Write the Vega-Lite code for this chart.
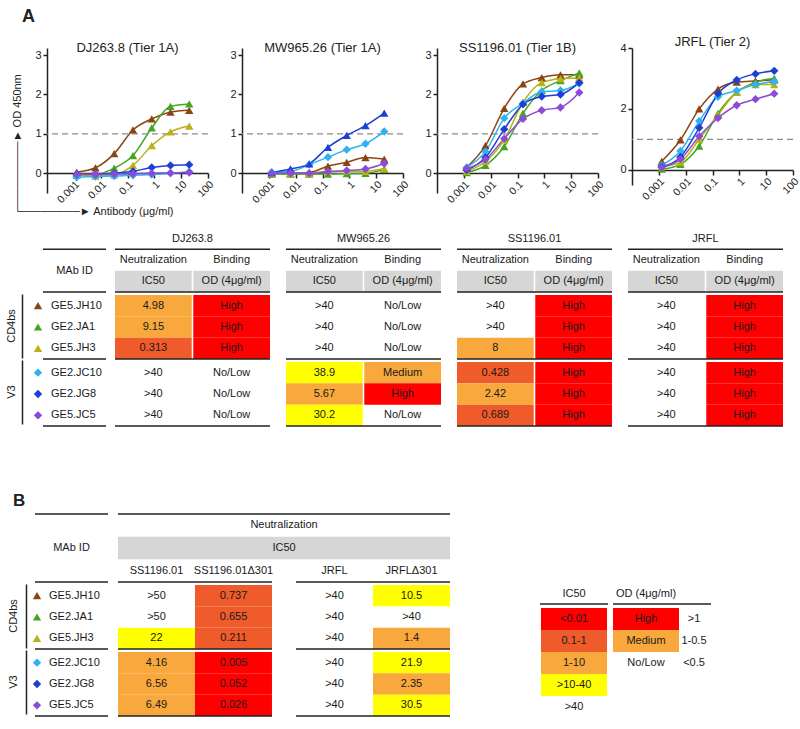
{
"$schema": "https://vega.github.io/schema/vega-lite/v6.json",
"background": "white",
"padding": {"left": 2, "top": 8, "right": 2, "bottom": 2},
"config": {
  "font": "Liberation Sans",
  "view": {"stroke": null},
  "text": {"font": "Liberation Sans", "fontSize": 11, "color": "#1a1a1a"},
  "axis": {"labelFont": "Liberation Sans", "titleFont": "Liberation Sans", "domainColor": "#222", "tickColor": "#222", "labelColor": "#222", "titleColor": "#222", "grid": false},
  "title": {"font": "Liberation Sans", "color": "#222"}
},
"datasets": {
  "curves": [
    {"panel":"DJ263.8","mab":"GE5.JH10","conc":0.00128,"od":0.03},{"panel":"DJ263.8","mab":"GE5.JH10","conc":0.0064,"od":0.14},{"panel":"DJ263.8","mab":"GE5.JH10","conc":0.032,"od":0.5},{"panel":"DJ263.8","mab":"GE5.JH10","conc":0.16,"od":1.1},{"panel":"DJ263.8","mab":"GE5.JH10","conc":0.8,"od":1.38},{"panel":"DJ263.8","mab":"GE5.JH10","conc":4,"od":1.55},{"panel":"DJ263.8","mab":"GE5.JH10","conc":20,"od":1.6},
    {"panel":"DJ263.8","mab":"GE2.JA1","conc":0.00128,"od":0.0},{"panel":"DJ263.8","mab":"GE2.JA1","conc":0.0064,"od":-0.03},{"panel":"DJ263.8","mab":"GE2.JA1","conc":0.032,"od":0.13},{"panel":"DJ263.8","mab":"GE2.JA1","conc":0.16,"od":0.45},{"panel":"DJ263.8","mab":"GE2.JA1","conc":0.8,"od":1.15},{"panel":"DJ263.8","mab":"GE2.JA1","conc":4,"od":1.7},{"panel":"DJ263.8","mab":"GE2.JA1","conc":20,"od":1.76},
    {"panel":"DJ263.8","mab":"GE5.JH3","conc":0.00128,"od":-0.05},{"panel":"DJ263.8","mab":"GE5.JH3","conc":0.0064,"od":-0.07},{"panel":"DJ263.8","mab":"GE5.JH3","conc":0.032,"od":-0.04},{"panel":"DJ263.8","mab":"GE5.JH3","conc":0.16,"od":0.2},{"panel":"DJ263.8","mab":"GE5.JH3","conc":0.8,"od":0.7},{"panel":"DJ263.8","mab":"GE5.JH3","conc":4,"od":1.05},{"panel":"DJ263.8","mab":"GE5.JH3","conc":20,"od":1.2},
    {"panel":"DJ263.8","mab":"GE2.JC10","conc":0.00128,"od":-0.1},{"panel":"DJ263.8","mab":"GE2.JC10","conc":0.0064,"od":-0.08},{"panel":"DJ263.8","mab":"GE2.JC10","conc":0.032,"od":-0.07},{"panel":"DJ263.8","mab":"GE2.JC10","conc":0.16,"od":-0.05},{"panel":"DJ263.8","mab":"GE2.JC10","conc":0.8,"od":-0.03},{"panel":"DJ263.8","mab":"GE2.JC10","conc":4,"od":0.0},{"panel":"DJ263.8","mab":"GE2.JC10","conc":20,"od":0.04},
    {"panel":"DJ263.8","mab":"GE2.JG8","conc":0.00128,"od":-0.02},{"panel":"DJ263.8","mab":"GE2.JG8","conc":0.0064,"od":-0.02},{"panel":"DJ263.8","mab":"GE2.JG8","conc":0.032,"od":0.0},{"panel":"DJ263.8","mab":"GE2.JG8","conc":0.16,"od":0.05},{"panel":"DJ263.8","mab":"GE2.JG8","conc":0.8,"od":0.15},{"panel":"DJ263.8","mab":"GE2.JG8","conc":4,"od":0.2},{"panel":"DJ263.8","mab":"GE2.JG8","conc":20,"od":0.22},
    {"panel":"DJ263.8","mab":"GE5.JC5","conc":0.00128,"od":-0.03},{"panel":"DJ263.8","mab":"GE5.JC5","conc":0.0064,"od":-0.03},{"panel":"DJ263.8","mab":"GE5.JC5","conc":0.032,"od":-0.02},{"panel":"DJ263.8","mab":"GE5.JC5","conc":0.16,"od":-0.01},{"panel":"DJ263.8","mab":"GE5.JC5","conc":0.8,"od":0.0},{"panel":"DJ263.8","mab":"GE5.JC5","conc":4,"od":0.01},{"panel":"DJ263.8","mab":"GE5.JC5","conc":20,"od":0.02},

    {"panel":"MW965.26","mab":"GE5.JH10","conc":0.00128,"od":0.0},{"panel":"MW965.26","mab":"GE5.JH10","conc":0.0064,"od":0.0},{"panel":"MW965.26","mab":"GE5.JH10","conc":0.032,"od":0.02},{"panel":"MW965.26","mab":"GE5.JH10","conc":0.16,"od":0.18},{"panel":"MW965.26","mab":"GE5.JH10","conc":0.8,"od":0.28},{"panel":"MW965.26","mab":"GE5.JH10","conc":4,"od":0.4},{"panel":"MW965.26","mab":"GE5.JH10","conc":20,"od":0.36},
    {"panel":"MW965.26","mab":"GE2.JA1","conc":0.00128,"od":-0.02},{"panel":"MW965.26","mab":"GE2.JA1","conc":0.0064,"od":-0.02},{"panel":"MW965.26","mab":"GE2.JA1","conc":0.032,"od":-0.02},{"panel":"MW965.26","mab":"GE2.JA1","conc":0.16,"od":-0.02},{"panel":"MW965.26","mab":"GE2.JA1","conc":0.8,"od":-0.01},{"panel":"MW965.26","mab":"GE2.JA1","conc":4,"od":0.0},{"panel":"MW965.26","mab":"GE2.JA1","conc":20,"od":0.1},
    {"panel":"MW965.26","mab":"GE5.JH3","conc":0.00128,"od":0.0},{"panel":"MW965.26","mab":"GE5.JH3","conc":0.0064,"od":0.0},{"panel":"MW965.26","mab":"GE5.JH3","conc":0.032,"od":0.0},{"panel":"MW965.26","mab":"GE5.JH3","conc":0.16,"od":0.05},{"panel":"MW965.26","mab":"GE5.JH3","conc":0.8,"od":0.06},{"panel":"MW965.26","mab":"GE5.JH3","conc":4,"od":0.05},{"panel":"MW965.26","mab":"GE5.JH3","conc":20,"od":0.12},
    {"panel":"MW965.26","mab":"GE2.JC10","conc":0.00128,"od":0.03},{"panel":"MW965.26","mab":"GE2.JC10","conc":0.0064,"od":0.05},{"panel":"MW965.26","mab":"GE2.JC10","conc":0.032,"od":0.22},{"panel":"MW965.26","mab":"GE2.JC10","conc":0.16,"od":0.41},{"panel":"MW965.26","mab":"GE2.JC10","conc":0.8,"od":0.6},{"panel":"MW965.26","mab":"GE2.JC10","conc":4,"od":0.75},{"panel":"MW965.26","mab":"GE2.JC10","conc":20,"od":1.06},
    {"panel":"MW965.26","mab":"GE2.JG8","conc":0.00128,"od":0.02},{"panel":"MW965.26","mab":"GE2.JG8","conc":0.0064,"od":0.11},{"panel":"MW965.26","mab":"GE2.JG8","conc":0.032,"od":0.24},{"panel":"MW965.26","mab":"GE2.JG8","conc":0.16,"od":0.66},{"panel":"MW965.26","mab":"GE2.JG8","conc":0.8,"od":0.96},{"panel":"MW965.26","mab":"GE2.JG8","conc":4,"od":1.21},{"panel":"MW965.26","mab":"GE2.JG8","conc":20,"od":1.53},
    {"panel":"MW965.26","mab":"GE5.JC5","conc":0.00128,"od":0.0},{"panel":"MW965.26","mab":"GE5.JC5","conc":0.0064,"od":0.0},{"panel":"MW965.26","mab":"GE5.JC5","conc":0.032,"od":0.0},{"panel":"MW965.26","mab":"GE5.JC5","conc":0.16,"od":0.04},{"panel":"MW965.26","mab":"GE5.JC5","conc":0.8,"od":0.07},{"panel":"MW965.26","mab":"GE5.JC5","conc":4,"od":0.11},{"panel":"MW965.26","mab":"GE5.JC5","conc":20,"od":0.25},

    {"panel":"SS1196.01","mab":"GE5.JH10","conc":0.00128,"od":0.15},{"panel":"SS1196.01","mab":"GE5.JH10","conc":0.0064,"od":0.7},{"panel":"SS1196.01","mab":"GE5.JH10","conc":0.032,"od":1.65},{"panel":"SS1196.01","mab":"GE5.JH10","conc":0.16,"od":2.27},{"panel":"SS1196.01","mab":"GE5.JH10","conc":0.8,"od":2.43},{"panel":"SS1196.01","mab":"GE5.JH10","conc":4,"od":2.5},{"panel":"SS1196.01","mab":"GE5.JH10","conc":20,"od":2.5},
    {"panel":"SS1196.01","mab":"GE2.JA1","conc":0.00128,"od":0.02},{"panel":"SS1196.01","mab":"GE2.JA1","conc":0.0064,"od":0.2},{"panel":"SS1196.01","mab":"GE2.JA1","conc":0.032,"od":0.68},{"panel":"SS1196.01","mab":"GE2.JA1","conc":0.16,"od":1.52},{"panel":"SS1196.01","mab":"GE2.JA1","conc":0.8,"od":2.1},{"panel":"SS1196.01","mab":"GE2.JA1","conc":4,"od":2.35},{"panel":"SS1196.01","mab":"GE2.JA1","conc":20,"od":2.55},
    {"panel":"SS1196.01","mab":"GE5.JH3","conc":0.00128,"od":0.05},{"panel":"SS1196.01","mab":"GE5.JH3","conc":0.0064,"od":0.3},{"panel":"SS1196.01","mab":"GE5.JH3","conc":0.032,"od":0.85},{"panel":"SS1196.01","mab":"GE5.JH3","conc":0.16,"od":1.8},{"panel":"SS1196.01","mab":"GE5.JH3","conc":0.8,"od":2.3},{"panel":"SS1196.01","mab":"GE5.JH3","conc":4,"od":2.4},{"panel":"SS1196.01","mab":"GE5.JH3","conc":20,"od":2.42},
    {"panel":"SS1196.01","mab":"GE2.JC10","conc":0.00128,"od":0.15},{"panel":"SS1196.01","mab":"GE2.JC10","conc":0.0064,"od":0.55},{"panel":"SS1196.01","mab":"GE2.JC10","conc":0.032,"od":1.4},{"panel":"SS1196.01","mab":"GE2.JC10","conc":0.16,"od":1.78},{"panel":"SS1196.01","mab":"GE2.JC10","conc":0.8,"od":2.07},{"panel":"SS1196.01","mab":"GE2.JC10","conc":4,"od":2.1},{"panel":"SS1196.01","mab":"GE2.JC10","conc":20,"od":2.28},
    {"panel":"SS1196.01","mab":"GE2.JG8","conc":0.00128,"od":0.08},{"panel":"SS1196.01","mab":"GE2.JG8","conc":0.0064,"od":0.4},{"panel":"SS1196.01","mab":"GE2.JG8","conc":0.032,"od":1.12},{"panel":"SS1196.01","mab":"GE2.JG8","conc":0.16,"od":1.75},{"panel":"SS1196.01","mab":"GE2.JG8","conc":0.8,"od":1.95},{"panel":"SS1196.01","mab":"GE2.JG8","conc":4,"od":2.0},{"panel":"SS1196.01","mab":"GE2.JG8","conc":20,"od":2.3},
    {"panel":"SS1196.01","mab":"GE5.JC5","conc":0.00128,"od":0.12},{"panel":"SS1196.01","mab":"GE5.JC5","conc":0.0064,"od":0.35},{"panel":"SS1196.01","mab":"GE5.JC5","conc":0.032,"od":0.88},{"panel":"SS1196.01","mab":"GE5.JC5","conc":0.16,"od":1.38},{"panel":"SS1196.01","mab":"GE5.JC5","conc":0.8,"od":1.6},{"panel":"SS1196.01","mab":"GE5.JC5","conc":4,"od":1.67},{"panel":"SS1196.01","mab":"GE5.JC5","conc":20,"od":2.05},

    {"panel":"JRFL","mab":"GE5.JH10","conc":0.00128,"od":0.28},{"panel":"JRFL","mab":"GE5.JH10","conc":0.0064,"od":0.98},{"panel":"JRFL","mab":"GE5.JH10","conc":0.032,"od":2.0},{"panel":"JRFL","mab":"GE5.JH10","conc":0.16,"od":2.65},{"panel":"JRFL","mab":"GE5.JH10","conc":0.8,"od":2.88},{"panel":"JRFL","mab":"GE5.JH10","conc":4,"od":2.92},{"panel":"JRFL","mab":"GE5.JH10","conc":20,"od":2.95},
    {"panel":"JRFL","mab":"GE2.JA1","conc":0.00128,"od":0.02},{"panel":"JRFL","mab":"GE2.JA1","conc":0.0064,"od":0.18},{"panel":"JRFL","mab":"GE2.JA1","conc":0.032,"od":0.78},{"panel":"JRFL","mab":"GE2.JA1","conc":0.16,"od":1.85},{"panel":"JRFL","mab":"GE2.JA1","conc":0.8,"od":2.55},{"panel":"JRFL","mab":"GE2.JA1","conc":4,"od":2.88},{"panel":"JRFL","mab":"GE2.JA1","conc":20,"od":3.0},
    {"panel":"JRFL","mab":"GE5.JH3","conc":0.00128,"od":0.1},{"panel":"JRFL","mab":"GE5.JH3","conc":0.0064,"od":0.25},{"panel":"JRFL","mab":"GE5.JH3","conc":0.032,"od":1.0},{"panel":"JRFL","mab":"GE5.JH3","conc":0.16,"od":1.8},{"panel":"JRFL","mab":"GE5.JH3","conc":0.8,"od":2.55},{"panel":"JRFL","mab":"GE5.JH3","conc":4,"od":2.8},{"panel":"JRFL","mab":"GE5.JH3","conc":20,"od":2.8},
    {"panel":"JRFL","mab":"GE2.JC10","conc":0.00128,"od":0.15},{"panel":"JRFL","mab":"GE2.JC10","conc":0.0064,"od":0.62},{"panel":"JRFL","mab":"GE2.JC10","conc":0.032,"od":1.6},{"panel":"JRFL","mab":"GE2.JC10","conc":0.16,"od":2.4},{"panel":"JRFL","mab":"GE2.JC10","conc":0.8,"od":2.6},{"panel":"JRFL","mab":"GE2.JC10","conc":4,"od":2.8},{"panel":"JRFL","mab":"GE2.JC10","conc":20,"od":2.9},
    {"panel":"JRFL","mab":"GE2.JG8","conc":0.00128,"od":0.1},{"panel":"JRFL","mab":"GE2.JG8","conc":0.0064,"od":0.42},{"panel":"JRFL","mab":"GE2.JG8","conc":0.032,"od":1.38},{"panel":"JRFL","mab":"GE2.JG8","conc":0.16,"od":2.5},{"panel":"JRFL","mab":"GE2.JG8","conc":0.8,"od":2.95},{"panel":"JRFL","mab":"GE2.JG8","conc":4,"od":3.15},{"panel":"JRFL","mab":"GE2.JG8","conc":20,"od":3.25},
    {"panel":"JRFL","mab":"GE5.JC5","conc":0.00128,"od":0.08},{"panel":"JRFL","mab":"GE5.JC5","conc":0.0064,"od":0.35},{"panel":"JRFL","mab":"GE5.JC5","conc":0.032,"od":1.1},{"panel":"JRFL","mab":"GE5.JC5","conc":0.16,"od":1.7},{"panel":"JRFL","mab":"GE5.JC5","conc":0.8,"od":2.12},{"panel":"JRFL","mab":"GE5.JC5","conc":4,"od":2.32},{"panel":"JRFL","mab":"GE5.JC5","conc":20,"od":2.5}
  ],
  "tableA": [
    {"section":"header","strain":"DJ263.8","pos":1,"col":"title","text":"DJ263.8"},
    {"section":"header","strain":"DJ263.8","pos":2,"col":"IC50","text":"Neutralization"},
    {"section":"header","strain":"DJ263.8","pos":2,"col":"OD","text":"Binding"},
    {"section":"header","strain":"DJ263.8","pos":3,"col":"IC50","text":"IC50","bin":"header"},
    {"section":"header","strain":"DJ263.8","pos":3,"col":"OD","text":"OD (4μg/ml)","bin":"header"},
    {"section":"header","strain":"MW965.26","pos":1,"col":"title","text":"MW965.26"},
    {"section":"header","strain":"MW965.26","pos":2,"col":"IC50","text":"Neutralization"},
    {"section":"header","strain":"MW965.26","pos":2,"col":"OD","text":"Binding"},
    {"section":"header","strain":"MW965.26","pos":3,"col":"IC50","text":"IC50","bin":"header"},
    {"section":"header","strain":"MW965.26","pos":3,"col":"OD","text":"OD (4μg/ml)","bin":"header"},
    {"section":"header","strain":"SS1196.01","pos":1,"col":"title","text":"SS1196.01"},
    {"section":"header","strain":"SS1196.01","pos":2,"col":"IC50","text":"Neutralization"},
    {"section":"header","strain":"SS1196.01","pos":2,"col":"OD","text":"Binding"},
    {"section":"header","strain":"SS1196.01","pos":3,"col":"IC50","text":"IC50","bin":"header"},
    {"section":"header","strain":"SS1196.01","pos":3,"col":"OD","text":"OD (4μg/ml)","bin":"header"},
    {"section":"header","strain":"JRFL","pos":1,"col":"title","text":"JRFL"},
    {"section":"header","strain":"JRFL","pos":2,"col":"IC50","text":"Neutralization"},
    {"section":"header","strain":"JRFL","pos":2,"col":"OD","text":"Binding"},
    {"section":"header","strain":"JRFL","pos":3,"col":"IC50","text":"IC50","bin":"header"},
    {"section":"header","strain":"JRFL","pos":3,"col":"OD","text":"OD (4μg/ml)","bin":"header"},

    {"section":"CD4bs","strain":"DJ263.8","pos":1,"mab":"GE5.JH10","col":"IC50","text":"4.98","bin":"1-10"},
    {"section":"CD4bs","strain":"DJ263.8","pos":1,"mab":"GE5.JH10","col":"OD","text":"High","bin":"High"},
    {"section":"CD4bs","strain":"DJ263.8","pos":2,"mab":"GE2.JA1","col":"IC50","text":"9.15","bin":"1-10"},
    {"section":"CD4bs","strain":"DJ263.8","pos":2,"mab":"GE2.JA1","col":"OD","text":"High","bin":"High"},
    {"section":"CD4bs","strain":"DJ263.8","pos":3,"mab":"GE5.JH3","col":"IC50","text":"0.313","bin":"0.1-1"},
    {"section":"CD4bs","strain":"DJ263.8","pos":3,"mab":"GE5.JH3","col":"OD","text":"High","bin":"High"},
    {"section":"V3","strain":"DJ263.8","pos":1,"mab":"GE2.JC10","col":"IC50","text":">40","bin":">40"},
    {"section":"V3","strain":"DJ263.8","pos":1,"mab":"GE2.JC10","col":"OD","text":"No/Low","bin":"No/Low"},
    {"section":"V3","strain":"DJ263.8","pos":2,"mab":"GE2.JG8","col":"IC50","text":">40","bin":">40"},
    {"section":"V3","strain":"DJ263.8","pos":2,"mab":"GE2.JG8","col":"OD","text":"No/Low","bin":"No/Low"},
    {"section":"V3","strain":"DJ263.8","pos":3,"mab":"GE5.JC5","col":"IC50","text":">40","bin":">40"},
    {"section":"V3","strain":"DJ263.8","pos":3,"mab":"GE5.JC5","col":"OD","text":"No/Low","bin":"No/Low"},

    {"section":"CD4bs","strain":"MW965.26","pos":1,"mab":"GE5.JH10","col":"IC50","text":">40","bin":">40"},
    {"section":"CD4bs","strain":"MW965.26","pos":1,"mab":"GE5.JH10","col":"OD","text":"No/Low","bin":"No/Low"},
    {"section":"CD4bs","strain":"MW965.26","pos":2,"mab":"GE2.JA1","col":"IC50","text":">40","bin":">40"},
    {"section":"CD4bs","strain":"MW965.26","pos":2,"mab":"GE2.JA1","col":"OD","text":"No/Low","bin":"No/Low"},
    {"section":"CD4bs","strain":"MW965.26","pos":3,"mab":"GE5.JH3","col":"IC50","text":">40","bin":">40"},
    {"section":"CD4bs","strain":"MW965.26","pos":3,"mab":"GE5.JH3","col":"OD","text":"No/Low","bin":"No/Low"},
    {"section":"V3","strain":"MW965.26","pos":1,"mab":"GE2.JC10","col":"IC50","text":"38.9","bin":">10-40"},
    {"section":"V3","strain":"MW965.26","pos":1,"mab":"GE2.JC10","col":"OD","text":"Medium","bin":"Medium"},
    {"section":"V3","strain":"MW965.26","pos":2,"mab":"GE2.JG8","col":"IC50","text":"5.67","bin":"1-10"},
    {"section":"V3","strain":"MW965.26","pos":2,"mab":"GE2.JG8","col":"OD","text":"High","bin":"High"},
    {"section":"V3","strain":"MW965.26","pos":3,"mab":"GE5.JC5","col":"IC50","text":"30.2","bin":">10-40"},
    {"section":"V3","strain":"MW965.26","pos":3,"mab":"GE5.JC5","col":"OD","text":"No/Low","bin":"No/Low"},

    {"section":"CD4bs","strain":"SS1196.01","pos":1,"mab":"GE5.JH10","col":"IC50","text":">40","bin":">40"},
    {"section":"CD4bs","strain":"SS1196.01","pos":1,"mab":"GE5.JH10","col":"OD","text":"High","bin":"High"},
    {"section":"CD4bs","strain":"SS1196.01","pos":2,"mab":"GE2.JA1","col":"IC50","text":">40","bin":">40"},
    {"section":"CD4bs","strain":"SS1196.01","pos":2,"mab":"GE2.JA1","col":"OD","text":"High","bin":"High"},
    {"section":"CD4bs","strain":"SS1196.01","pos":3,"mab":"GE5.JH3","col":"IC50","text":"8","bin":"1-10"},
    {"section":"CD4bs","strain":"SS1196.01","pos":3,"mab":"GE5.JH3","col":"OD","text":"High","bin":"High"},
    {"section":"V3","strain":"SS1196.01","pos":1,"mab":"GE2.JC10","col":"IC50","text":"0.428","bin":"0.1-1"},
    {"section":"V3","strain":"SS1196.01","pos":1,"mab":"GE2.JC10","col":"OD","text":"High","bin":"High"},
    {"section":"V3","strain":"SS1196.01","pos":2,"mab":"GE2.JG8","col":"IC50","text":"2.42","bin":"1-10"},
    {"section":"V3","strain":"SS1196.01","pos":2,"mab":"GE2.JG8","col":"OD","text":"High","bin":"High"},
    {"section":"V3","strain":"SS1196.01","pos":3,"mab":"GE5.JC5","col":"IC50","text":"0.689","bin":"0.1-1"},
    {"section":"V3","strain":"SS1196.01","pos":3,"mab":"GE5.JC5","col":"OD","text":"High","bin":"High"},

    {"section":"CD4bs","strain":"JRFL","pos":1,"mab":"GE5.JH10","col":"IC50","text":">40","bin":">40"},
    {"section":"CD4bs","strain":"JRFL","pos":1,"mab":"GE5.JH10","col":"OD","text":"High","bin":"High"},
    {"section":"CD4bs","strain":"JRFL","pos":2,"mab":"GE2.JA1","col":"IC50","text":">40","bin":">40"},
    {"section":"CD4bs","strain":"JRFL","pos":2,"mab":"GE2.JA1","col":"OD","text":"High","bin":"High"},
    {"section":"CD4bs","strain":"JRFL","pos":3,"mab":"GE5.JH3","col":"IC50","text":">40","bin":">40"},
    {"section":"CD4bs","strain":"JRFL","pos":3,"mab":"GE5.JH3","col":"OD","text":"High","bin":"High"},
    {"section":"V3","strain":"JRFL","pos":1,"mab":"GE2.JC10","col":"IC50","text":">40","bin":">40"},
    {"section":"V3","strain":"JRFL","pos":1,"mab":"GE2.JC10","col":"OD","text":"High","bin":"High"},
    {"section":"V3","strain":"JRFL","pos":2,"mab":"GE2.JG8","col":"IC50","text":">40","bin":">40"},
    {"section":"V3","strain":"JRFL","pos":2,"mab":"GE2.JG8","col":"OD","text":"High","bin":"High"},
    {"section":"V3","strain":"JRFL","pos":3,"mab":"GE5.JC5","col":"IC50","text":">40","bin":">40"},
    {"section":"V3","strain":"JRFL","pos":3,"mab":"GE5.JC5","col":"OD","text":"High","bin":"High"}
  ],
  "mabs": [
    {"section":"CD4bs","pos":1,"mab":"GE5.JH10"},{"section":"CD4bs","pos":2,"mab":"GE2.JA1"},{"section":"CD4bs","pos":3,"mab":"GE5.JH3"},
    {"section":"V3","pos":1,"mab":"GE2.JC10"},{"section":"V3","pos":2,"mab":"GE2.JG8"},{"section":"V3","pos":3,"mab":"GE5.JC5"}
  ],
  "mabHeadA": [
    {"kind":"label","pos":3,"text":"MAb ID"},{"kind":"rule","pos":1},{"kind":"rule","pos":3}
  ],
  "mabHeadB": [
    {"kind":"label","pos":2,"text":"MAb ID"},{"kind":"top","pos":1},{"kind":"bottom","pos":3}
  ],
  "headB": [
    {"kind":"span","pos":1,"text":"Neutralization"},
    {"kind":"spanhead","pos":2,"text":"IC50","bin":"header"},
    {"kind":"col","pos":3,"group":"SS1196.01","col":"wt","text":"SS1196.01"},
    {"kind":"col","pos":3,"group":"SS1196.01","col":"d301","text":"SS1196.01Δ301"},
    {"kind":"col","pos":3,"group":"JRFL","col":"wt","text":"JRFL"},
    {"kind":"col","pos":3,"group":"JRFL","col":"d301","text":"JRFLΔ301"}
  ],
  "tableB": [
    {"section":"CD4bs","pos":1,"mab":"GE5.JH10","group":"SS1196.01","col":"wt","text":">50","bin":">40"},
    {"section":"CD4bs","pos":2,"mab":"GE2.JA1","group":"SS1196.01","col":"wt","text":">50","bin":">40"},
    {"section":"CD4bs","pos":3,"mab":"GE5.JH3","group":"SS1196.01","col":"wt","text":"22","bin":">10-40"},
    {"section":"CD4bs","pos":1,"mab":"GE5.JH10","group":"SS1196.01","col":"d301","text":"0.737","bin":"0.1-1"},
    {"section":"CD4bs","pos":2,"mab":"GE2.JA1","group":"SS1196.01","col":"d301","text":"0.655","bin":"0.1-1"},
    {"section":"CD4bs","pos":3,"mab":"GE5.JH3","group":"SS1196.01","col":"d301","text":"0.211","bin":"0.1-1"},
    {"section":"CD4bs","pos":1,"mab":"GE5.JH10","group":"JRFL","col":"wt","text":">40","bin":">40"},
    {"section":"CD4bs","pos":2,"mab":"GE2.JA1","group":"JRFL","col":"wt","text":">40","bin":">40"},
    {"section":"CD4bs","pos":3,"mab":"GE5.JH3","group":"JRFL","col":"wt","text":">40","bin":">40"},
    {"section":"CD4bs","pos":1,"mab":"GE5.JH10","group":"JRFL","col":"d301","text":"10.5","bin":">10-40"},
    {"section":"CD4bs","pos":2,"mab":"GE2.JA1","group":"JRFL","col":"d301","text":">40","bin":">40"},
    {"section":"CD4bs","pos":3,"mab":"GE5.JH3","group":"JRFL","col":"d301","text":"1.4","bin":"1-10"},
    {"section":"V3","pos":1,"mab":"GE2.JC10","group":"SS1196.01","col":"wt","text":"4.16","bin":"1-10"},
    {"section":"V3","pos":2,"mab":"GE2.JG8","group":"SS1196.01","col":"wt","text":"6.56","bin":"1-10"},
    {"section":"V3","pos":3,"mab":"GE5.JC5","group":"SS1196.01","col":"wt","text":"6.49","bin":"1-10"},
    {"section":"V3","pos":1,"mab":"GE2.JC10","group":"SS1196.01","col":"d301","text":"0.005","bin":"<0.01"},
    {"section":"V3","pos":2,"mab":"GE2.JG8","group":"SS1196.01","col":"d301","text":"0.052","bin":"0.01-0.1"},
    {"section":"V3","pos":3,"mab":"GE5.JC5","group":"SS1196.01","col":"d301","text":"0.026","bin":"0.01-0.1"},
    {"section":"V3","pos":1,"mab":"GE2.JC10","group":"JRFL","col":"wt","text":">40","bin":">40"},
    {"section":"V3","pos":2,"mab":"GE2.JG8","group":"JRFL","col":"wt","text":">40","bin":">40"},
    {"section":"V3","pos":3,"mab":"GE5.JC5","group":"JRFL","col":"wt","text":">40","bin":">40"},
    {"section":"V3","pos":1,"mab":"GE2.JC10","group":"JRFL","col":"d301","text":"21.9","bin":">10-40"},
    {"section":"V3","pos":2,"mab":"GE2.JG8","group":"JRFL","col":"d301","text":"2.35","bin":"1-10"},
    {"section":"V3","pos":3,"mab":"GE5.JC5","group":"JRFL","col":"d301","text":"30.5","bin":">10-40"}
  ],
  "legend": [
    {"col":"IC50","pos":0,"text":"IC50"},{"col":"OD","pos":0,"text":"OD (4μg/ml)"},
    {"col":"IC50","pos":1,"text":"<0.01","bin":"<0.01"},{"col":"IC50","pos":2,"text":"0.1-1","bin":"0.1-1"},{"col":"IC50","pos":3,"text":"1-10","bin":"1-10"},{"col":"IC50","pos":4,"text":">10-40","bin":">10-40"},{"col":"IC50","pos":5,"text":">40","bin":">40"},
    {"col":"OD","pos":1,"text":"High","bin":"High","range":">1"},{"col":"OD","pos":2,"text":"Medium","bin":"Medium","range":"1-0.5"},{"col":"OD","pos":3,"text":"No/Low","bin":"No/Low","range":"<0.5"}
  ]
},
"resolve": {"scale": {"shape": "independent", "color": "independent", "fill": "independent"}},
"spacing": 65,
"vconcat": [
 {
  "title": {"text": "A", "anchor": "start", "fontSize": 18, "fontWeight": "bold", "dx": 20, "offset": 10},
  "resolve": {"scale": {"shape": "independent", "color": "independent", "fill": "independent"}},
  "spacing": 12,
  "vconcat": [
   {
    "resolve": {"scale": {"shape": "independent", "color": "independent"}},
    "spacing": 8,
    "hconcat": [
     {"width": 1, "height": 1, "data": {"values": []}, "mark": "point"},
     {
      "resolve": {"scale": {"shape": "independent", "color": "independent"}},
      "spacing": 13,
      "hconcat": [
       {
        "width": 161, "height": 145,
        "title": {"text": "DJ263.8 (Tier 1A)", "fontSize": 13, "fontWeight": "normal", "offset": -7, "frame": "group"},
        "layer": [
         {"data": {"values": [{}]}, "mark": {"type": "rule", "strokeDash": [6,4], "color": "#8c8c8c", "strokeWidth": 1.2}, "encoding": {"y": {"datum": 1, "type": "quantitative"}}},
         {"data": {"name": "curves"}, "transform": [{"filter": "datum.panel == 'DJ263.8'"}], "mark": {"type": "line", "interpolate": "monotone", "strokeWidth": 1.5},
          "encoding": {
           "x": {"field": "conc", "type": "quantitative", "scale": {"type": "log", "domain": [0.0001, 100]}, "axis": {"values": [0.001,0.01,0.1,1,10,100], "format": "~g", "labelAngle": -45, "labelAlign": "right", "labelBaseline": "top", "labelFlush": false, "labelOverlap": false, "labelFontSize": 10.5, "labelPadding": 1, "tickSize": 5, "tickWidth": 1.5, "domainWidth": 1.5, "offset": -20, "title": "────────► Antibody (μg/ml)", "titleX": -30, "titleY": 38, "titleAlign": "left", "titleBaseline": "middle", "titleFontSize": 11, "titleFontWeight": "normal"}},
           "y": {"field": "od", "type": "quantitative", "scale": {"domain": [-0.5, 3.18], "nice": false, "zero": false}, "axis": {"values": [0,1,2,3], "labelFontSize": 11, "labelPadding": 2, "tickSize": 4, "tickWidth": 1.5, "domainWidth": 1.5, "title": "─────────► OD 450nm", "titleX": -30, "titleY": 163, "titleAngle": -90, "titleAlign": "left", "titleBaseline": "middle", "titleFontSize": 11, "titleFontWeight": "normal"}},
           "color": {"field": "mab", "type": "nominal", "scale": {"domain": ["GE5.JH10","GE2.JA1","GE5.JH3","GE2.JC10","GE2.JG8","GE5.JC5"], "range": ["#8B4513","#46a51f","#b9b116","#2fb2f0","#1c3fd6","#8b4ad8"]}, "legend": null}
          }},
         {"data": {"name": "curves"}, "transform": [{"filter": "datum.panel == 'DJ263.8'"}], "mark": {"type": "point", "filled": true, "size": 70, "opacity": 1},
          "encoding": {
           "x": {"field": "conc", "type": "quantitative", "scale": {"type": "log", "domain": [0.0001, 100]}},
           "y": {"field": "od", "type": "quantitative", "scale": {"domain": [-0.5, 3.18], "nice": false, "zero": false}},
           "color": {"field": "mab", "type": "nominal", "scale": {"domain": ["GE5.JH10","GE2.JA1","GE5.JH3","GE2.JC10","GE2.JG8","GE5.JC5"], "range": ["#8B4513","#46a51f","#b9b116","#2fb2f0","#1c3fd6","#8b4ad8"]}, "legend": null},
           "shape": {"field": "mab", "type": "nominal", "scale": {"domain": ["GE5.JH10","GE2.JA1","GE5.JH3","GE2.JC10","GE2.JG8","GE5.JC5"], "range": ["triangle-up","triangle-up","triangle-up","diamond","diamond","diamond"]}, "legend": null}
          }}
        ]
       },
       {
        "width": 161, "height": 145,
        "title": {"text": "MW965.26 (Tier 1A)", "fontSize": 13, "fontWeight": "normal", "offset": -7, "frame": "group"},
        "layer": [
         {"data": {"values": [{}]}, "mark": {"type": "rule", "strokeDash": [6,4], "color": "#8c8c8c", "strokeWidth": 1.2}, "encoding": {"y": {"datum": 1, "type": "quantitative"}}},
         {"data": {"name": "curves"}, "transform": [{"filter": "datum.panel == 'MW965.26'"}], "mark": {"type": "line", "interpolate": "monotone", "strokeWidth": 1.5},
          "encoding": {
           "x": {"field": "conc", "type": "quantitative", "scale": {"type": "log", "domain": [0.0001, 100]}, "axis": {"values": [0.001,0.01,0.1,1,10,100], "format": "~g", "labelAngle": -45, "labelAlign": "right", "labelBaseline": "top", "labelFlush": false, "labelOverlap": false, "labelFontSize": 10.5, "labelPadding": 1, "tickSize": 5, "tickWidth": 1.5, "domainWidth": 1.5, "offset": -20, "title": null}},
           "y": {"field": "od", "type": "quantitative", "scale": {"domain": [-0.5, 3.18], "nice": false, "zero": false}, "axis": {"values": [0,1,2,3], "labelFontSize": 11, "labelPadding": 2, "tickSize": 4, "tickWidth": 1.5, "domainWidth": 1.5, "title": null}},
           "color": {"field": "mab", "type": "nominal", "scale": {"domain": ["GE5.JH10","GE2.JA1","GE5.JH3","GE2.JC10","GE2.JG8","GE5.JC5"], "range": ["#8B4513","#46a51f","#b9b116","#2fb2f0","#1c3fd6","#8b4ad8"]}, "legend": null}
          }},
         {"data": {"name": "curves"}, "transform": [{"filter": "datum.panel == 'MW965.26'"}], "mark": {"type": "point", "filled": true, "size": 70, "opacity": 1},
          "encoding": {
           "x": {"field": "conc", "type": "quantitative", "scale": {"type": "log", "domain": [0.0001, 100]}},
           "y": {"field": "od", "type": "quantitative", "scale": {"domain": [-0.5, 3.18], "nice": false, "zero": false}},
           "color": {"field": "mab", "type": "nominal", "scale": {"domain": ["GE5.JH10","GE2.JA1","GE5.JH3","GE2.JC10","GE2.JG8","GE5.JC5"], "range": ["#8B4513","#46a51f","#b9b116","#2fb2f0","#1c3fd6","#8b4ad8"]}, "legend": null},
           "shape": {"field": "mab", "type": "nominal", "scale": {"domain": ["GE5.JH10","GE2.JA1","GE5.JH3","GE2.JC10","GE2.JG8","GE5.JC5"], "range": ["triangle-up","triangle-up","triangle-up","diamond","triangle-up","diamond"]}, "legend": null}
          }}
        ]
       },
       {
        "width": 161, "height": 145,
        "title": {"text": "SS1196.01 (Tier 1B)", "fontSize": 13, "fontWeight": "normal", "offset": -7, "frame": "group"},
        "layer": [
         {"data": {"values": [{}]}, "mark": {"type": "rule", "strokeDash": [6,4], "color": "#8c8c8c", "strokeWidth": 1.2}, "encoding": {"y": {"datum": 1, "type": "quantitative"}}},
         {"data": {"name": "curves"}, "transform": [{"filter": "datum.panel == 'SS1196.01'"}], "mark": {"type": "line", "interpolate": "monotone", "strokeWidth": 1.5},
          "encoding": {
           "x": {"field": "conc", "type": "quantitative", "scale": {"type": "log", "domain": [0.0001, 100]}, "axis": {"values": [0.001,0.01,0.1,1,10,100], "format": "~g", "labelAngle": -45, "labelAlign": "right", "labelBaseline": "top", "labelFlush": false, "labelOverlap": false, "labelFontSize": 10.5, "labelPadding": 1, "tickSize": 5, "tickWidth": 1.5, "domainWidth": 1.5, "offset": -20, "title": null}},
           "y": {"field": "od", "type": "quantitative", "scale": {"domain": [-0.5, 3.18], "nice": false, "zero": false}, "axis": {"values": [0,1,2,3], "labelFontSize": 11, "labelPadding": 2, "tickSize": 4, "tickWidth": 1.5, "domainWidth": 1.5, "title": null}},
           "color": {"field": "mab", "type": "nominal", "scale": {"domain": ["GE5.JH10","GE2.JA1","GE5.JH3","GE2.JC10","GE2.JG8","GE5.JC5"], "range": ["#8B4513","#46a51f","#b9b116","#2fb2f0","#1c3fd6","#8b4ad8"]}, "legend": null}
          }},
         {"data": {"name": "curves"}, "transform": [{"filter": "datum.panel == 'SS1196.01'"}], "mark": {"type": "point", "filled": true, "size": 70, "opacity": 1},
          "encoding": {
           "x": {"field": "conc", "type": "quantitative", "scale": {"type": "log", "domain": [0.0001, 100]}},
           "y": {"field": "od", "type": "quantitative", "scale": {"domain": [-0.5, 3.18], "nice": false, "zero": false}},
           "color": {"field": "mab", "type": "nominal", "scale": {"domain": ["GE5.JH10","GE2.JA1","GE5.JH3","GE2.JC10","GE2.JG8","GE5.JC5"], "range": ["#8B4513","#46a51f","#b9b116","#2fb2f0","#1c3fd6","#8b4ad8"]}, "legend": null},
           "shape": {"field": "mab", "type": "nominal", "scale": {"domain": ["GE5.JH10","GE2.JA1","GE5.JH3","GE2.JC10","GE2.JG8","GE5.JC5"], "range": ["triangle-up","triangle-up","triangle-up","diamond","diamond","diamond"]}, "legend": null}
          }}
        ]
       },
       {
        "width": 161, "height": 137,
        "title": {"text": "JRFL (Tier 2)", "fontSize": 13, "fontWeight": "normal", "offset": -7, "frame": "group"},
        "layer": [
         {"data": {"values": [{}]}, "mark": {"type": "rule", "strokeDash": [6,4], "color": "#8c8c8c", "strokeWidth": 1.2}, "encoding": {"y": {"datum": 1, "type": "quantitative"}}},
         {"data": {"name": "curves"}, "transform": [{"filter": "datum.panel == 'JRFL'"}], "mark": {"type": "line", "interpolate": "monotone", "strokeWidth": 1.5},
          "encoding": {
           "x": {"field": "conc", "type": "quantitative", "scale": {"type": "log", "domain": [0.0001, 100]}, "axis": {"values": [0.001,0.01,0.1,1,10,100], "format": "~g", "labelAngle": -45, "labelAlign": "right", "labelBaseline": "top", "labelFlush": false, "labelOverlap": false, "labelFontSize": 10.5, "labelPadding": 1, "tickSize": 5, "tickWidth": 1.5, "domainWidth": 1.5, "offset": -15, "title": null}},
           "y": {"field": "od", "type": "quantitative", "scale": {"domain": [-0.5, 4], "nice": false, "zero": false}, "axis": {"values": [0,1,2,3,4], "labelFontSize": 11, "labelPadding": 2, "tickSize": 4, "tickWidth": 1.5, "domainWidth": 1.5, "title": null}},
           "color": {"field": "mab", "type": "nominal", "scale": {"domain": ["GE5.JH10","GE2.JA1","GE5.JH3","GE2.JC10","GE2.JG8","GE5.JC5"], "range": ["#8B4513","#46a51f","#b9b116","#2fb2f0","#1c3fd6","#8b4ad8"]}, "legend": null}
          }},
         {"data": {"name": "curves"}, "transform": [{"filter": "datum.panel == 'JRFL'"}], "mark": {"type": "point", "filled": true, "size": 70, "opacity": 1},
          "encoding": {
           "x": {"field": "conc", "type": "quantitative", "scale": {"type": "log", "domain": [0.0001, 100]}},
           "y": {"field": "od", "type": "quantitative", "scale": {"domain": [-0.5, 4], "nice": false, "zero": false}},
           "color": {"field": "mab", "type": "nominal", "scale": {"domain": ["GE5.JH10","GE2.JA1","GE5.JH3","GE2.JC10","GE2.JG8","GE5.JC5"], "range": ["#8B4513","#46a51f","#b9b116","#2fb2f0","#1c3fd6","#8b4ad8"]}, "legend": null},
           "shape": {"field": "mab", "type": "nominal", "scale": {"domain": ["GE5.JH10","GE2.JA1","GE5.JH3","GE2.JC10","GE2.JG8","GE5.JC5"], "range": ["triangle-up","triangle-up","triangle-up","diamond","diamond","diamond"]}, "legend": null}
          }}
        ]
       }
      ]
     }
    ]
   },
   {
    "spacing": 11,
    "hconcat": [
     {
      "spacing": 2,
      "vconcat": [
       {"width": 20, "height": 64, "data": {"values": []}, "mark": "text"},
       {
        "width": 20, "height": 64,
        "data": {"name": "mabs"},
        "transform": [{"filter": "datum.section == 'CD4bs' && datum.pos == 2"}],
        "mark": {"type": "text", "angle": 270, "fontSize": 11},
        "encoding": {
         "y": {"field": "pos", "type": "ordinal", "scale": {"domain": [1,2,3], "paddingInner": 0, "paddingOuter": 0}, "axis": {"orient": "right", "domain": true, "domainColor": "#222", "domainWidth": 1.5, "ticks": false, "labels": false, "title": null}},
         "text": {"field": "section"}
        }
       },
       {
        "width": 20, "height": 64,
        "data": {"name": "mabs"},
        "transform": [{"filter": "datum.section == 'V3' && datum.pos == 2"}],
        "mark": {"type": "text", "angle": 270, "fontSize": 11},
        "encoding": {
         "y": {"field": "pos", "type": "ordinal", "scale": {"domain": [1,2,3], "paddingInner": 0, "paddingOuter": 0}, "axis": {"orient": "right", "domain": true, "domainColor": "#222", "domainWidth": 1.5, "ticks": false, "labels": false, "title": null}},
         "text": {"field": "section"}
        }
       }
      ]
     },
     {
      "spacing": 7,
      "hconcat": [
       {
        "spacing": 2,
        "vconcat": [
         {
          "width": 63, "height": 64,
          "data": {"name": "mabHeadA"},
          "layer": [
           {"transform": [{"filter": "datum.kind == 'label'"}], "mark": {"type": "text", "fontSize": 11},
            "encoding": {"y": {"field": "pos", "type": "ordinal", "bandPosition": 0, "scale": {"domain": [1,2,3], "paddingInner": 0, "paddingOuter": 0}, "axis": null}, "text": {"field": "text"}}},
           {"transform": [{"filter": "datum.kind == 'rule'"}], "mark": {"type": "rule", "strokeWidth": 1.5, "color": "#222"},
            "encoding": {"y": {"field": "pos", "type": "ordinal", "bandPosition": 1, "scale": {"domain": [1,2,3], "paddingInner": 0, "paddingOuter": 0}, "axis": null}}}
          ]
         },
         {
          "width": 63, "height": 64,
          "data": {"name": "mabs"},
          "transform": [{"filter": "datum.section == 'CD4bs'"}],
          "layer": [
           {"mark": {"type": "point", "filled": true, "size": 70, "opacity": 1, "xOffset": -36.5},
            "encoding": {
             "y": {"field": "pos", "type": "ordinal", "scale": {"domain": [1,2,3], "paddingInner": 0, "paddingOuter": 0}, "axis": null},
             "color": {"field": "mab", "type": "nominal", "scale": {"domain": ["GE5.JH10","GE2.JA1","GE5.JH3","GE2.JC10","GE2.JG8","GE5.JC5"], "range": ["#8B4513","#46a51f","#b9b116","#2fb2f0","#1c3fd6","#8b4ad8"]}, "legend": null},
             "shape": {"field": "mab", "type": "nominal", "scale": {"domain": ["GE5.JH10","GE2.JA1","GE5.JH3","GE2.JC10","GE2.JG8","GE5.JC5"], "range": ["triangle-up","triangle-up","triangle-up","diamond","diamond","diamond"]}, "legend": null}
            }},
           {"mark": {"type": "text", "align": "left", "dx": -23.5, "fontSize": 11},
            "encoding": {
             "y": {"field": "pos", "type": "ordinal", "scale": {"domain": [1,2,3], "paddingInner": 0, "paddingOuter": 0}, "axis": null},
             "text": {"field": "mab"}
            }},
           {"transform": [{"filter": "datum.pos == 3"}], "mark": {"type": "rule", "strokeWidth": 1.5, "color": "#222"},
            "encoding": {
             "y": {"field": "pos", "type": "ordinal", "bandPosition": 1, "scale": {"domain": [1,2,3], "paddingInner": 0, "paddingOuter": 0}, "axis": null}
            }}
          ]
         },
         {
          "width": 63, "height": 64,
          "data": {"name": "mabs"},
          "transform": [{"filter": "datum.section == 'V3'"}],
          "layer": [
           {"mark": {"type": "point", "filled": true, "size": 70, "opacity": 1, "xOffset": -36.5},
            "encoding": {
             "y": {"field": "pos", "type": "ordinal", "scale": {"domain": [1,2,3], "paddingInner": 0, "paddingOuter": 0}, "axis": null},
             "color": {"field": "mab", "type": "nominal", "scale": {"domain": ["GE5.JH10","GE2.JA1","GE5.JH3","GE2.JC10","GE2.JG8","GE5.JC5"], "range": ["#8B4513","#46a51f","#b9b116","#2fb2f0","#1c3fd6","#8b4ad8"]}, "legend": null},
             "shape": {"field": "mab", "type": "nominal", "scale": {"domain": ["GE5.JH10","GE2.JA1","GE5.JH3","GE2.JC10","GE2.JG8","GE5.JC5"], "range": ["triangle-up","triangle-up","triangle-up","diamond","diamond","diamond"]}, "legend": null}
            }},
           {"mark": {"type": "text", "align": "left", "dx": -23.5, "fontSize": 11},
            "encoding": {
             "y": {"field": "pos", "type": "ordinal", "scale": {"domain": [1,2,3], "paddingInner": 0, "paddingOuter": 0}, "axis": null},
             "text": {"field": "mab"}
            }},
           {"transform": [{"filter": "datum.pos == 3"}], "mark": {"type": "rule", "strokeWidth": 1.5, "color": "#222"},
            "encoding": {
             "y": {"field": "pos", "type": "ordinal", "bandPosition": 1, "scale": {"domain": [1,2,3], "paddingInner": 0, "paddingOuter": 0}, "axis": null}
            }}
          ]
         }
        ]
       },
       {
        "data": {"name": "tableA"},
        "facet": {
         "row": {"field": "section", "type": "nominal", "sort": ["header","CD4bs","V3"], "header": {"labels": false, "title": null}},
         "column": {"field": "strain", "type": "nominal", "sort": ["DJ263.8","MW965.26","SS1196.01","JRFL"], "header": {"labels": false, "title": null}}
        },
        "spacing": {"row": 2, "column": 14},
        "spec": {
         "width": 155, "height": 64,
         "layer": [
          {"transform": [{"filter": "datum.bin != null"}], "mark": {"type": "rect"},
           "encoding": {
            "x": {"field": "col", "type": "nominal", "scale": {"domain": ["IC50","OD"], "paddingInner": 0.02, "paddingOuter": 0}, "axis": null},
            "y": {"field": "pos", "type": "ordinal", "scale": {"domain": [1,2,3], "paddingInner": 0, "paddingOuter": 0}, "axis": null},
            "fill": {"field": "bin", "type": "nominal", "scale": {"domain": ["<0.01","0.01-0.1","0.1-1","1-10",">10-40",">40","High","Medium","No/Low","header"], "range": ["#ff0000","#ff0000","#ef5b2b","#f8a83c","#ffff00","transparent","#ff0000","#f8a83c","transparent","#d6d6d6"]}, "legend": null}
           }},
          {"transform": [{"filter": "datum.col != 'title'"}], "mark": {"type": "text", "fontSize": 11},
           "encoding": {
            "x": {"field": "col", "type": "nominal", "scale": {"domain": ["IC50","OD"], "paddingInner": 0.02, "paddingOuter": 0}, "axis": null},
            "y": {"field": "pos", "type": "ordinal", "scale": {"domain": [1,2,3], "paddingInner": 0, "paddingOuter": 0}, "axis": null},
            "text": {"field": "text"}
           }},
          {"transform": [{"filter": "datum.col == 'title'"}], "mark": {"type": "text", "fontSize": 11},
           "encoding": {
            "y": {"field": "pos", "type": "ordinal", "scale": {"domain": [1,2,3], "paddingInner": 0, "paddingOuter": 0}, "axis": null},
            "text": {"field": "text"}
           }},
          {"transform": [{"filter": "datum.col == 'title' || (datum.pos == 3 && datum.col == 'IC50')"}], "mark": {"type": "rule", "strokeWidth": 1.5, "color": "#222"},
           "encoding": {
            "y": {"field": "pos", "type": "ordinal", "bandPosition": 1, "scale": {"domain": [1,2,3], "paddingInner": 0, "paddingOuter": 0}, "axis": null}
           }}
         ]
        }
       }
      ]
     }
    ]
   }
  ]
 },
 {
  "title": {"text": "B", "anchor": "start", "fontSize": 17, "fontWeight": "bold", "dx": 11, "offset": 3},
  "spacing": 89,
  "hconcat": [
   {
    "spacing": 6,
    "hconcat": [
     {
      "spacing": 2,
      "vconcat": [
       {"width": 24, "height": 68, "data": {"values": []}, "mark": "text"},
       {
        "width": 24, "height": 64,
        "data": {"name": "mabs"},
        "transform": [{"filter": "datum.section == 'CD4bs' && datum.pos == 2"}],
        "mark": {"type": "text", "angle": 270, "fontSize": 11},
        "encoding": {
         "y": {"field": "pos", "type": "ordinal", "scale": {"domain": [1,2,3], "paddingInner": 0, "paddingOuter": 0}, "axis": {"orient": "right", "domain": true, "domainColor": "#222", "domainWidth": 1.5, "ticks": false, "labels": false, "title": null}},
         "text": {"field": "section"}
        }
       },
       {
        "width": 24, "height": 64,
        "data": {"name": "mabs"},
        "transform": [{"filter": "datum.section == 'V3' && datum.pos == 2"}],
        "mark": {"type": "text", "angle": 270, "fontSize": 11},
        "encoding": {
         "y": {"field": "pos", "type": "ordinal", "scale": {"domain": [1,2,3], "paddingInner": 0, "paddingOuter": 0}, "axis": {"orient": "right", "domain": true, "domainColor": "#222", "domainWidth": 1.5, "ticks": false, "labels": false, "title": null}},
         "text": {"field": "section"}
        }
       }
      ]
     },
     {
      "spacing": 8,
      "hconcat": [
       {
        "spacing": 2,
        "vconcat": [
         {
          "width": 73, "height": 68,
          "data": {"name": "mabHeadB"},
          "layer": [
           {"transform": [{"filter": "datum.kind == 'label'"}], "mark": {"type": "text", "fontSize": 11},
            "encoding": {"y": {"field": "pos", "type": "ordinal", "scale": {"domain": [1,2,3], "paddingInner": 0, "paddingOuter": 0}, "axis": null}, "text": {"field": "text"}}},
           {"transform": [{"filter": "datum.kind == 'top'"}], "mark": {"type": "rule", "strokeWidth": 1.5, "color": "#222"},
            "encoding": {"y": {"field": "pos", "type": "ordinal", "bandPosition": 0, "scale": {"domain": [1,2,3], "paddingInner": 0, "paddingOuter": 0}, "axis": null}}},
           {"transform": [{"filter": "datum.kind == 'bottom'"}], "mark": {"type": "rule", "strokeWidth": 1.5, "color": "#222"},
            "encoding": {"y": {"field": "pos", "type": "ordinal", "bandPosition": 1, "scale": {"domain": [1,2,3], "paddingInner": 0, "paddingOuter": 0}, "axis": null}}}
          ]
         },
         {
          "width": 73, "height": 64,
          "data": {"name": "mabs"},
          "transform": [{"filter": "datum.section == 'CD4bs'"}],
          "layer": [
           {"mark": {"type": "point", "filled": true, "size": 70, "opacity": 1, "xOffset": -34.5},
            "encoding": {
             "y": {"field": "pos", "type": "ordinal", "scale": {"domain": [1,2,3], "paddingInner": 0, "paddingOuter": 0}, "axis": null},
             "color": {"field": "mab", "type": "nominal", "scale": {"domain": ["GE5.JH10","GE2.JA1","GE5.JH3","GE2.JC10","GE2.JG8","GE5.JC5"], "range": ["#8B4513","#46a51f","#b9b116","#2fb2f0","#1c3fd6","#8b4ad8"]}, "legend": null},
             "shape": {"field": "mab", "type": "nominal", "scale": {"domain": ["GE5.JH10","GE2.JA1","GE5.JH3","GE2.JC10","GE2.JG8","GE5.JC5"], "range": ["triangle-up","triangle-up","triangle-up","diamond","diamond","diamond"]}, "legend": null}
            }},
           {"mark": {"type": "text", "align": "left", "dx": -22.5, "fontSize": 11},
            "encoding": {
             "y": {"field": "pos", "type": "ordinal", "scale": {"domain": [1,2,3], "paddingInner": 0, "paddingOuter": 0}, "axis": null},
             "text": {"field": "mab"}
            }},
           {"transform": [{"filter": "datum.pos == 3"}], "mark": {"type": "rule", "strokeWidth": 1.5, "color": "#222"},
            "encoding": {
             "y": {"field": "pos", "type": "ordinal", "bandPosition": 1, "scale": {"domain": [1,2,3], "paddingInner": 0, "paddingOuter": 0}, "axis": null}
            }}
          ]
         },
         {
          "width": 73, "height": 64,
          "data": {"name": "mabs"},
          "transform": [{"filter": "datum.section == 'V3'"}],
          "layer": [
           {"mark": {"type": "point", "filled": true, "size": 70, "opacity": 1, "xOffset": -34.5},
            "encoding": {
             "y": {"field": "pos", "type": "ordinal", "scale": {"domain": [1,2,3], "paddingInner": 0, "paddingOuter": 0}, "axis": null},
             "color": {"field": "mab", "type": "nominal", "scale": {"domain": ["GE5.JH10","GE2.JA1","GE5.JH3","GE2.JC10","GE2.JG8","GE5.JC5"], "range": ["#8B4513","#46a51f","#b9b116","#2fb2f0","#1c3fd6","#8b4ad8"]}, "legend": null},
             "shape": {"field": "mab", "type": "nominal", "scale": {"domain": ["GE5.JH10","GE2.JA1","GE5.JH3","GE2.JC10","GE2.JG8","GE5.JC5"], "range": ["triangle-up","triangle-up","triangle-up","diamond","diamond","diamond"]}, "legend": null}
            }},
           {"mark": {"type": "text", "align": "left", "dx": -22.5, "fontSize": 11},
            "encoding": {
             "y": {"field": "pos", "type": "ordinal", "scale": {"domain": [1,2,3], "paddingInner": 0, "paddingOuter": 0}, "axis": null},
             "text": {"field": "mab"}
            }},
           {"transform": [{"filter": "datum.pos == 3"}], "mark": {"type": "rule", "strokeWidth": 1.5, "color": "#222"},
            "encoding": {
             "y": {"field": "pos", "type": "ordinal", "bandPosition": 1, "scale": {"domain": [1,2,3], "paddingInner": 0, "paddingOuter": 0}, "axis": null}
            }}
          ]
         }
        ]
       },
       {
        "spacing": 2,
        "vconcat": [
         {
          "width": 332, "height": 68,
          "data": {"name": "headB"},
          "layer": [
           {"transform": [{"filter": "datum.kind == 'spanhead'"}], "mark": {"type": "rect"},
            "encoding": {
             "y": {"field": "pos", "type": "ordinal", "scale": {"domain": [1,2,3], "paddingInner": 0, "paddingOuter": 0}, "axis": null},
             "fill": {"field": "bin", "type": "nominal", "scale": {"domain": ["<0.01","0.01-0.1","0.1-1","1-10",">10-40",">40","High","Medium","No/Low","header"], "range": ["#ff0000","#ff0000","#ef5b2b","#f8a83c","#ffff00","transparent","#ff0000","#f8a83c","transparent","#d6d6d6"]}, "legend": null}
            }},
           {"transform": [{"filter": "datum.kind != 'col'"}], "mark": {"type": "text", "fontSize": 11},
            "encoding": {
             "y": {"field": "pos", "type": "ordinal", "scale": {"domain": [1,2,3], "paddingInner": 0, "paddingOuter": 0}, "axis": null},
             "text": {"field": "text"}
            }},
           {"transform": [{"filter": "datum.kind == 'col'"}], "mark": {"type": "text", "fontSize": 11},
            "encoding": {
             "x": {"field": "group", "type": "nominal", "scale": {"domain": ["SS1196.01","JRFL"], "paddingInner": 0.135, "paddingOuter": 0}, "axis": null},
             "xOffset": {"field": "col", "type": "nominal", "scale": {"domain": ["wt","d301"], "paddingInner": 0, "paddingOuter": 0}},
             "y": {"field": "pos", "type": "ordinal", "scale": {"domain": [1,2,3], "paddingInner": 0, "paddingOuter": 0}, "axis": null},
             "text": {"field": "text"}
            }},
           {"transform": [{"filter": "datum.kind == 'span'"}], "mark": {"type": "rule", "strokeWidth": 1.5, "color": "#222"},
            "encoding": {
             "y": {"field": "pos", "type": "ordinal", "bandPosition": 0, "scale": {"domain": [1,2,3], "paddingInner": 0, "paddingOuter": 0}, "axis": null}
            }},
           {"transform": [{"filter": "datum.kind == 'col' && datum.col == 'wt'"}], "mark": {"type": "tick", "orient": "horizontal", "size": 154, "thickness": 1.5, "color": "#222", "opacity": 1},
            "encoding": {
             "x": {"field": "group", "type": "nominal", "scale": {"domain": ["SS1196.01","JRFL"], "paddingInner": 0.135, "paddingOuter": 0}, "axis": null},
             "y": {"field": "pos", "type": "ordinal", "bandPosition": 1, "scale": {"domain": [1,2,3], "paddingInner": 0, "paddingOuter": 0}, "axis": null}
            }}
          ]
         },
         {
          "width": 332, "height": 64,
          "data": {"name": "tableB"},
          "transform": [{"filter": "datum.section == 'CD4bs'"}],
          "layer": [
           {"mark": {"type": "rect"},
            "encoding": {
             "x": {"field": "group", "type": "nominal", "scale": {"domain": ["SS1196.01","JRFL"], "paddingInner": 0.135, "paddingOuter": 0}, "axis": null},
             "xOffset": {"field": "col", "type": "nominal", "scale": {"domain": ["wt","d301"], "paddingInner": 0, "paddingOuter": 0}},
             "y": {"field": "pos", "type": "ordinal", "scale": {"domain": [1,2,3], "paddingInner": 0, "paddingOuter": 0}, "axis": null},
             "fill": {"field": "bin", "type": "nominal", "scale": {"domain": ["<0.01","0.01-0.1","0.1-1","1-10",">10-40",">40","High","Medium","No/Low","header"], "range": ["#ff0000","#ff0000","#ef5b2b","#f8a83c","#ffff00","transparent","#ff0000","#f8a83c","transparent","#d6d6d6"]}, "legend": null}
            }},
           {"mark": {"type": "text", "fontSize": 11},
            "encoding": {
             "x": {"field": "group", "type": "nominal", "scale": {"domain": ["SS1196.01","JRFL"], "paddingInner": 0.135, "paddingOuter": 0}, "axis": null},
             "xOffset": {"field": "col", "type": "nominal", "scale": {"domain": ["wt","d301"], "paddingInner": 0, "paddingOuter": 0}},
             "y": {"field": "pos", "type": "ordinal", "scale": {"domain": [1,2,3], "paddingInner": 0, "paddingOuter": 0}, "axis": null},
             "text": {"field": "text"}
            }},
           {"transform": [{"filter": "datum.pos == 3 && datum.col == 'wt'"}], "mark": {"type": "tick", "orient": "horizontal", "size": 154, "thickness": 1.5, "color": "#222", "opacity": 1},
            "encoding": {
             "x": {"field": "group", "type": "nominal", "scale": {"domain": ["SS1196.01","JRFL"], "paddingInner": 0.135, "paddingOuter": 0}, "axis": null},
             "y": {"field": "pos", "type": "ordinal", "bandPosition": 1, "scale": {"domain": [1,2,3], "paddingInner": 0, "paddingOuter": 0}, "axis": null}
            }}
          ]
         },
         {
          "width": 332, "height": 64,
          "data": {"name": "tableB"},
          "transform": [{"filter": "datum.section == 'V3'"}],
          "layer": [
           {"mark": {"type": "rect"},
            "encoding": {
             "x": {"field": "group", "type": "nominal", "scale": {"domain": ["SS1196.01","JRFL"], "paddingInner": 0.135, "paddingOuter": 0}, "axis": null},
             "xOffset": {"field": "col", "type": "nominal", "scale": {"domain": ["wt","d301"], "paddingInner": 0, "paddingOuter": 0}},
             "y": {"field": "pos", "type": "ordinal", "scale": {"domain": [1,2,3], "paddingInner": 0, "paddingOuter": 0}, "axis": null},
             "fill": {"field": "bin", "type": "nominal", "scale": {"domain": ["<0.01","0.01-0.1","0.1-1","1-10",">10-40",">40","High","Medium","No/Low","header"], "range": ["#ff0000","#ff0000","#ef5b2b","#f8a83c","#ffff00","transparent","#ff0000","#f8a83c","transparent","#d6d6d6"]}, "legend": null}
            }},
           {"mark": {"type": "text", "fontSize": 11},
            "encoding": {
             "x": {"field": "group", "type": "nominal", "scale": {"domain": ["SS1196.01","JRFL"], "paddingInner": 0.135, "paddingOuter": 0}, "axis": null},
             "xOffset": {"field": "col", "type": "nominal", "scale": {"domain": ["wt","d301"], "paddingInner": 0, "paddingOuter": 0}},
             "y": {"field": "pos", "type": "ordinal", "scale": {"domain": [1,2,3], "paddingInner": 0, "paddingOuter": 0}, "axis": null},
             "text": {"field": "text"}
            }},
           {"transform": [{"filter": "datum.pos == 3 && datum.col == 'wt'"}], "mark": {"type": "tick", "orient": "horizontal", "size": 154, "thickness": 1.5, "color": "#222", "opacity": 1},
            "encoding": {
             "x": {"field": "group", "type": "nominal", "scale": {"domain": ["SS1196.01","JRFL"], "paddingInner": 0.135, "paddingOuter": 0}, "axis": null},
             "y": {"field": "pos", "type": "ordinal", "bandPosition": 1, "scale": {"domain": [1,2,3], "paddingInner": 0, "paddingOuter": 0}, "axis": null}
            }}
          ]
         }
        ]
       }
      ]
     }
    ]
   },
   {
    "spacing": 2,
    "vconcat": [
     {"width": 138, "height": 70, "data": {"values": []}, "mark": "text"},
     {
      "width": 138, "height": 132,
      "data": {"name": "legend"},
      "layer": [
       {"transform": [{"filter": "datum.pos > 0"}], "mark": {"type": "rect"},
        "encoding": {
         "x": {"field": "col", "type": "nominal", "scale": {"domain": ["IC50","OD"], "paddingInner": 0.083, "paddingOuter": 0}, "axis": null},
         "y": {"field": "pos", "type": "ordinal", "scale": {"domain": [0,1,2,3,4,5], "paddingInner": 0, "paddingOuter": 0}, "axis": null},
         "fill": {"field": "bin", "type": "nominal", "scale": {"domain": ["<0.01","0.01-0.1","0.1-1","1-10",">10-40",">40","High","Medium","No/Low","header"], "range": ["#ff0000","#ff0000","#ef5b2b","#f8a83c","#ffff00","transparent","#ff0000","#f8a83c","transparent","#d6d6d6"]}, "legend": null}
        }},
       {"transform": [{"filter": "datum.pos > 0"}], "mark": {"type": "text", "fontSize": 11},
        "encoding": {
         "x": {"field": "col", "type": "nominal", "scale": {"domain": ["IC50","OD"], "paddingInner": 0.083, "paddingOuter": 0}, "axis": null},
         "y": {"field": "pos", "type": "ordinal", "scale": {"domain": [0,1,2,3,4,5], "paddingInner": 0, "paddingOuter": 0}, "axis": null},
         "text": {"field": "text"}
        }},
       {"transform": [{"filter": "datum.pos == 0"}], "mark": {"type": "text", "fontSize": 11},
        "encoding": {
         "x": {"field": "col", "type": "nominal", "scale": {"domain": ["IC50","OD"], "paddingInner": 0.083, "paddingOuter": 0}, "axis": null},
         "y": {"field": "pos", "type": "ordinal", "bandPosition": 0.35, "scale": {"domain": [0,1,2,3,4,5], "paddingInner": 0, "paddingOuter": 0}, "axis": null},
         "text": {"field": "text"}
        }},
       {"transform": [{"filter": "datum.range != null"}], "mark": {"type": "text", "fontSize": 11, "dx": 15},
        "encoding": {
         "x": {"field": "col", "type": "nominal", "bandPosition": 1, "scale": {"domain": ["IC50","OD"], "paddingInner": 0.083, "paddingOuter": 0}, "axis": null},
         "y": {"field": "pos", "type": "ordinal", "scale": {"domain": [0,1,2,3,4,5], "paddingInner": 0, "paddingOuter": 0}, "axis": null},
         "text": {"field": "range"}
        }},
       {"transform": [{"filter": "datum.pos == 0 && datum.col == 'IC50'"}], "mark": {"type": "tick", "orient": "horizontal", "size": 68, "thickness": 1.5, "color": "#222", "opacity": 1},
        "encoding": {
         "x": {"field": "col", "type": "nominal", "scale": {"domain": ["IC50","OD"], "paddingInner": 0.083, "paddingOuter": 0}, "axis": null},
         "y": {"field": "pos", "type": "ordinal", "bandPosition": 0.82, "scale": {"domain": [0,1,2,3,4,5], "paddingInner": 0, "paddingOuter": 0}, "axis": null}
        }},
       {"transform": [{"filter": "datum.pos == 0 && datum.col == 'OD'"}], "mark": {"type": "tick", "orient": "horizontal", "size": 98, "thickness": 1.5, "color": "#222", "opacity": 1, "xOffset": 16},
        "encoding": {
         "x": {"field": "col", "type": "nominal", "scale": {"domain": ["IC50","OD"], "paddingInner": 0.083, "paddingOuter": 0}, "axis": null},
         "y": {"field": "pos", "type": "ordinal", "bandPosition": 0.82, "scale": {"domain": [0,1,2,3,4,5], "paddingInner": 0, "paddingOuter": 0}, "axis": null}
        }}
      ]
     }
    ]
   }
  ]
 }
]
}
